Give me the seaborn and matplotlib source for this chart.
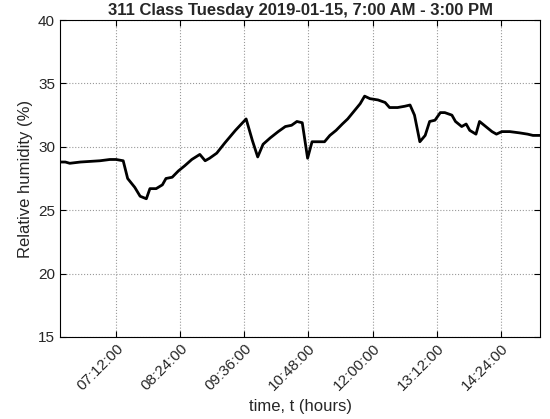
import matplotlib
matplotlib.use("Agg")
import matplotlib.pyplot as plt
import seaborn as sns
import pandas as pd
from matplotlib.ticker import FuncFormatter, MultipleLocator

times = ["6:09","6:15","6:20","6:32","6:54","7:05","7:12","7:20","7:25","7:33","7:39","7:46","7:50","7:57",
         "8:04","8:08","8:15","8:22","8:29","8:37","8:46","8:52","8:57","9:05","9:14","9:26","9:38","9:45",
         "9:51","9:57","10:05","10:14","10:22","10:29","10:35","10:41","10:47","10:52","11:01","11:06","11:12",
         "11:19","11:26","11:32","11:39","11:46","11:51","11:57","12:06","12:14","12:19","12:28","12:36","12:42",
         "12:47","12:53","12:59","13:04","13:10","13:16","13:21","13:29","13:33","13:40","13:45","13:49","13:56",
         "14:00","14:07","14:14","14:19","14:25","14:34","14:45","14:54","15:00","15:08"]
humidity = [28.8,28.8,28.7,28.8,28.9,29.0,29.0,28.9,27.5,26.8,26.1,25.9,26.7,26.7,
            27.0,27.5,27.6,28.1,28.5,29.0,29.4,28.9,29.1,29.5,30.3,31.3,32.2,30.5,
            29.2,30.2,30.7,31.2,31.6,31.7,32.0,31.9,29.1,30.4,30.4,30.4,30.9,
            31.3,31.8,32.2,32.8,33.4,34.0,33.8,33.7,33.5,33.1,33.1,33.2,33.3,
            32.5,30.4,30.9,32.0,32.1,32.7,32.7,32.5,32.0,31.6,31.8,31.3,31.0,
            32.0,31.6,31.2,31.0,31.2,31.2,31.1,31.0,30.9,30.9]
tick_labels = ["07:12:00","08:24:00","09:36:00","10:48:00","12:00:00","13:12:00","14:24:00"]

def to_h(s):
    h, m = s.split(":")[:2]
    return int(h) + int(m) / 60

df = pd.DataFrame({"t": [to_h(t) for t in times], "rh": humidity})

sns.set_style("white")
plt.rcParams["font.family"] = ["Liberation Sans", "DejaVu Sans"]
fig = plt.figure(figsize=(5.5, 4.19), dpi=100)
ax = fig.add_axes([0.109, 0.196, 0.873, 0.756])
sns.lineplot(data=df, x="t", y="rh", ax=ax, color="black", linewidth=2)
ax.set_xlim(to_h("6:09"), to_h("15:08"))
ax.set_ylim(15, 40)
ax.yaxis.set_major_locator(MultipleLocator(5))
ax.set_xticks([to_h(s) for s in tick_labels])
ax.set_xticklabels(tick_labels, rotation=45, ha="right", rotation_mode="anchor", fontsize=11)
ax.tick_params(axis="y", labelsize=11)
ax.tick_params(direction="in", length=4, color="black", bottom=True, left=True, top=True, right=True)
ax.grid(True, linestyle=":", color="#999999", linewidth=0.8)
for s in ax.spines.values():
    s.set_color("black"); s.set_linewidth(0.8)
ax.set_xlabel("time, t (hours)", fontsize=12)
ax.set_ylabel("Relative humidity (%)", fontsize=12)
ax.set_title("311 Class Tuesday 2019-01-15, 7:00 AM - 3:00 PM", fontsize=12, fontweight="bold", pad=4)
fig.savefig("out.png", dpi=100)
